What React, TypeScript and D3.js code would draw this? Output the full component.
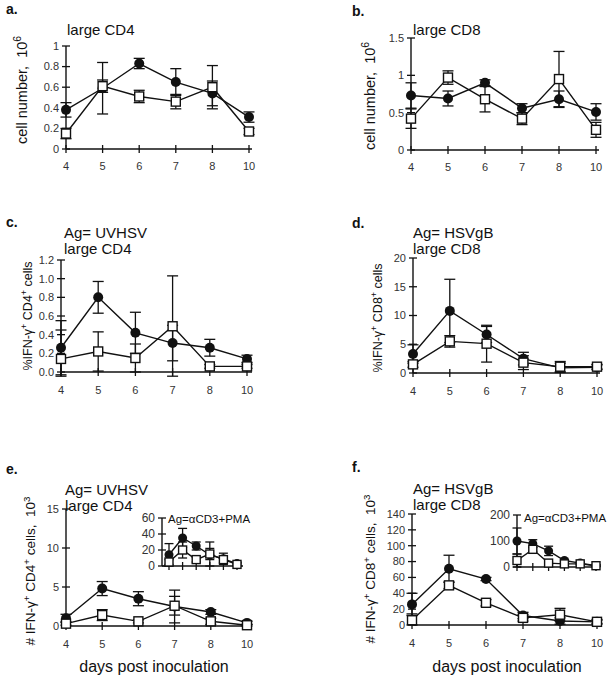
import React from "react";
import * as d3 from "d3";

// ---------- data ----------
const days = ["4", "5", "6", "7", "8", "10"];

// a. large CD4 cell number (10^6)
const aFilled = [0.38, 0.59, 0.83, 0.65, 0.54, 0.31];
const aFilledErr = [0.07, 0.25, 0.05, 0.13, 0.12, 0.05];
const aOpen = [0.15, 0.61, 0.51, 0.46, 0.6, 0.17];
const aOpenErr = [0.05, 0.06, 0.06, 0.07, 0.21, 0.03];
const aTicks = [0, 0.2, 0.4, 0.6, 0.8, 1];

// b. large CD8 cell number (10^6)
const bFilled = [0.73, 0.69, 0.9, 0.56, 0.68, 0.51];
const bFilledErr = [0.17, 0.1, 0.04, 0.06, 0.11, 0.11];
const bOpen = [0.42, 0.97, 0.68, 0.42, 0.95, 0.27];
const bOpenErr = [0.13, 0.09, 0.17, 0.08, 0.37, 0.1];
const bTicks = [0, 0.5, 1, 1.5];

// c. %IFN-g+ CD4+ (UVHSV)
const cFilled = [0.26, 0.8, 0.42, 0.31, 0.26, 0.14];
const cFilledErr = [0.29, 0.17, 0.22, 0.19, 0.09, 0.04];
const cOpen = [0.14, 0.22, 0.15, 0.49, 0.06, 0.06];
const cOpenErr = [0.31, 0.21, 0.15, 0.54, 0.02, 0.02];
const cTicks = [0, 0.2, 0.4, 0.6, 0.8, 1.0, 1.2];

// d. %IFN-g+ CD8+ (HSVgB)
const dFilled = [3.3, 10.8, 6.7, 2.5, 0.9, 1.0];
const dFilledErr = [1.6, 5.5, 1.4, 1.1, 0.8, 0.4];
const dOpen = [1.5, 5.5, 5.1, 1.8, 1.1, 1.1];
const dOpenErr = [0.5, 1.0, 3.2, 1.2, 0.9, 0.4];
const dTicks = [0, 5, 10, 15, 20];

// e. # IFN-g+ CD4+ (10^3)
const eFilled = [1.0, 4.8, 3.5, 2.5, 1.8, 0.4];
const eFilledErr = [0.5, 0.9, 0.9, 2.1, 0.3, 0.2];
const eOpen = [0.3, 1.4, 0.6, 2.6, 0.6, 0.1];
const eOpenErr = [0.2, 0.7, 0.2, 1.2, 0.4, 0.1];
const eTicks = [0, 5, 10, 15];
// e inset (aCD3+PMA)
const eInFilled = [14, 35, 25, 14, 9, 3];
const eInFilledErr = [14, 12, 5, 16, 7, 2];
const eInOpen = [5, 20, 8, 15, 8, 2];
const eInOpenErr = [3, 10, 3, 7, 4, 2];
const eInTicks = [0, 20, 40, 60];

// f. # IFN-g+ CD8+ (10^3)
const fFilled = [26, 71, 58, 12, 5, 4];
const fFilledErr = [14, 17, 2, 4, 4, 2];
const fOpen = [6, 50, 28, 9, 13, 4];
const fOpenErr = [8, 4, 4, 4, 8, 3];
const fTicks = [0, 20, 40, 60, 80, 100, 120, 140];
// f inset (aCD3+PMA)
const fInFilled = [100, 90, 62, 25, 15, 5];
const fInFilledErr = [50, 15, 18, 5, 5, 3];
const fInOpen = [25, 68, 15, 12, 12, 5];
const fInOpenErr = [25, 8, 5, 4, 4, 3];
const fInTicks = [0, 100, 200];

// ---------- drawing ----------
const FONT = "'Liberation Sans', Arial, Helvetica, sans-serif";
const INK = "#111";

type Seg = { t: string; sup?: boolean };

function SegText({ segs, size }: { segs: Seg[]; size: number }) {
  const out: React.ReactNode[] = [];
  let prevSup = false;
  segs.forEach((s, i) => {
    let dy = 0;
    if (s.sup && !prevSup) dy = -size * 0.4;
    if (!s.sup && prevSup) dy = size * 0.4;
    out.push(
      <tspan key={i} dy={dy} fontSize={s.sup ? size * 0.72 : size}>
        {s.t}
      </tspan>
    );
    prevSup = !!s.sup;
  });
  return <>{out}</>;
}

type PlotProps = {
  xRange: [number, number];
  axisX0?: number;
  axisX1?: number;
  yMax: number;
  yPx: [number, number];
  yAxisMin?: number;
  ticks: number[];
  fmt: (v: number) => string;
  filled: number[];
  filledErr: number[];
  open: number[];
  openErr: number[];
  tickSize: number;
  xLabels?: boolean;
  xLabelDy?: number;
  r?: number;
  sq?: number;
  cap?: number;
};

function Plot(p: PlotProps) {
  const x = d3.scalePoint<string>().domain(days).range(p.xRange).padding(0);
  const y = d3.scaleLinear().domain([0, p.yMax]).range(p.yPx);
  const yMinV = p.yAxisMin ?? 0;
  const ax0 = p.axisX0 ?? p.xRange[0];
  const ax1 = p.axisX1 ?? p.xRange[1] + 3;
  const y0 = y(0);
  const r = p.r ?? 5;
  const sq = p.sq ?? 9;
  const cap = p.cap ?? 5.5;
  const line = d3
    .line<number>()
    .x((_, i) => x(days[i]) as number)
    .y((v) => y(v));
  const errBars = (vals: number[], errs: number[], key: string) =>
    vals.map((v, i) => {
      const cx = x(days[i]) as number;
      const hi = y(v + errs[i]);
      const lo = y(Math.max(v - errs[i], yMinV));
      return (
        <g key={key + i} stroke={INK} strokeWidth={1.3}>
          <line x1={cx} x2={cx} y1={hi} y2={lo} />
          <line x1={cx - cap} x2={cx + cap} y1={hi} y2={hi} />
          <line x1={cx - cap} x2={cx + cap} y1={lo} y2={lo} />
        </g>
      );
    });
  return (
    <g fontFamily={FONT}>
      {/* y axis */}
      <line x1={ax0} x2={ax0} y1={y(yMinV)} y2={y(p.yMax)} stroke={INK} strokeWidth={1.4} />
      {p.ticks.map((t) => (
        <g key={"yt" + t}>
          <line x1={ax0 - 4} x2={ax0 + 4} y1={y(t)} y2={y(t)} stroke={INK} strokeWidth={1.3} />
          <text
            x={ax0 - 7}
            y={y(t)}
            dy="0.35em"
            textAnchor="end"
            fontSize={p.tickSize}
            fill="#333"
          >
            {p.fmt(t)}
          </text>
        </g>
      ))}
      {/* x axis */}
      <line x1={ax0} x2={ax1} y1={y0} y2={y0} stroke={INK} strokeWidth={1.4} />
      {days.map((d) => (
        <g key={"xt" + d}>
          <line x1={x(d)} x2={x(d)} y1={y0 - 4} y2={y0 + 4} stroke={INK} strokeWidth={1.3} />
          {p.xLabels !== false && (
            <text
              x={x(d)}
              y={y0 + (p.xLabelDy ?? 21)}
              textAnchor="middle"
              fontSize={p.tickSize}
              fill="#333"
            >
              {d}
            </text>
          )}
        </g>
      ))}
      {errBars(p.filled, p.filledErr, "fe")}
      {errBars(p.open, p.openErr, "oe")}
      <path d={line(p.filled) || ""} fill="none" stroke={INK} strokeWidth={1.4} />
      <path d={line(p.open) || ""} fill="none" stroke={INK} strokeWidth={1.4} />
      {p.filled.map((v, i) => (
        <circle key={"fc" + i} cx={x(days[i])} cy={y(v)} r={r} fill={INK} />
      ))}
      {p.open.map((v, i) => (
        <rect
          key={"os" + i}
          x={(x(days[i]) as number) - sq / 2}
          y={y(v) - sq / 2}
          width={sq}
          height={sq}
          fill="#fff"
          stroke={INK}
          strokeWidth={1.4}
        />
      ))}
    </g>
  );
}

function Letter({ x, y, t }: { x: number; y: number; t: string }) {
  return (
    <text x={x} y={y} fontFamily={FONT} fontWeight="bold" fontSize={14} fill={INK}>
      {t}
    </text>
  );
}

function Title({ x, y, lines }: { x: number; y: number; lines: string[] }) {
  return (
    <text x={x} y={y} fontFamily={FONT} fontSize={15} fill={INK}>
      {lines.map((l, i) => (
        <tspan key={i} x={x} dy={i === 0 ? 0 : 16}>
          {l}
        </tspan>
      ))}
    </text>
  );
}

function YLabel({ x, y, segs, size }: { x: number; y: number; segs: Seg[]; size: number }) {
  return (
    <text
      transform={`translate(${x},${y}) rotate(-90)`}
      textAnchor="middle"
      fontFamily={FONT}
      fontSize={size}
      fill={INK}
    >
      <SegText segs={segs} size={size} />
    </text>
  );
}

const f1 = d3.format(".1f");
const fg = (v: number) => String(v);

const cellLabel: Seg[] = [{ t: "cell number,\u00a0\u00a010" }, { t: "6", sup: true }];
const pctCD4: Seg[] = [
  { t: "%IFN-γ" },
  { t: "+", sup: true },
  { t: " CD4" },
  { t: "+", sup: true },
  { t: " cells" },
];
const pctCD8: Seg[] = [
  { t: "%IFN-γ" },
  { t: "+", sup: true },
  { t: " CD8" },
  { t: "+", sup: true },
  { t: " cells" },
];
const numCD4: Seg[] = [
  { t: "# IFN-γ" },
  { t: "+", sup: true },
  { t: " CD4" },
  { t: "+", sup: true },
  { t: " cells,\u00a0\u00a010" },
  { t: "3", sup: true },
];
const numCD8: Seg[] = [
  { t: "# IFN-γ" },
  { t: "+", sup: true },
  { t: " CD8" },
  { t: "+", sup: true },
  { t: " cells,\u00a0\u00a010" },
  { t: "3", sup: true },
];

export default function App() {
  return (
    <svg
      width={616}
      height={677}
      viewBox="0 0 616 677"
      style={{ position: "absolute", left: 0, top: 0, background: "#fff" }}
    >
      <rect width={616} height={677} fill="#fff" />

      {/* a */}
      <Letter x={6} y={14} t="a." />
      <Title x={67} y={35} lines={["large CD4"]} />
      <YLabel x={27} y={90} segs={cellLabel} size={14.5} />
      <Plot
        xRange={[66, 249]}
        yMax={1}
        yPx={[149, 46]}
        ticks={aTicks}
        fmt={fg}
        filled={aFilled}
        filledErr={aFilledErr}
        open={aOpen}
        openErr={aOpenErr}
        tickSize={11}
      />

      {/* b */}
      <Letter x={352} y={16} t="b." />
      <Title x={413} y={35} lines={["large CD8"]} />
      <YLabel x={375} y={96} segs={cellLabel} size={14.5} />
      <Plot
        xRange={[411, 596]}
        yMax={1.5}
        yPx={[150, 38]}
        ticks={bTicks}
        fmt={fg}
        filled={bFilled}
        filledErr={bFilledErr}
        open={bOpen}
        openErr={bOpenErr}
        tickSize={11}
      />

      {/* c */}
      <Letter x={6} y={227} t="c." />
      <Title x={64} y={238} lines={["Ag= UVHSV", "large CD4"]} />
      <YLabel x={32} y={316} segs={pctCD4} size={12.5} />
      <Plot
        xRange={[61, 247]}
        axisX1={252}
        yMax={1.2}
        yPx={[372, 260]}
        yAxisMin={-0.045}
        ticks={cTicks}
        fmt={f1}
        filled={cFilled}
        filledErr={cFilledErr}
        open={cOpen}
        openErr={cOpenErr}
        tickSize={11}
        xLabelDy={22}
      />

      {/* d */}
      <Letter x={352} y={228} t="d." />
      <Title x={413} y={238} lines={["Ag= HSVgB", "large CD8"]} />
      <YLabel x={382} y={318} segs={pctCD8} size={12.5} />
      <Plot
        xRange={[413, 597]}
        axisX1={600}
        yMax={20}
        yPx={[373, 258]}
        ticks={dTicks}
        fmt={fg}
        filled={dFilled}
        filledErr={dFilledErr}
        open={dOpen}
        openErr={dOpenErr}
        tickSize={11}
        xLabelDy={22}
      />

      {/* e */}
      <Letter x={6} y={474} t="e." />
      <Title x={65} y={495} lines={["Ag= UVHSV", "large CD4"]} />
      <YLabel x={35} y={571} segs={numCD4} size={13.5} />
      <Plot
        xRange={[66, 247]}
        axisX1={252}
        yMax={15}
        yPx={[626, 509]}
        ticks={eTicks}
        fmt={fg}
        filled={eFilled}
        filledErr={eFilledErr}
        open={eOpen}
        openErr={eOpenErr}
        tickSize={11}
        xLabelDy={22}
      />
      <Plot
        xRange={[169, 237]}
        axisX0={162}
        axisX1={243}
        yMax={60}
        yPx={[566, 518]}
        ticks={eInTicks}
        fmt={fg}
        filled={eInFilled}
        filledErr={eInFilledErr}
        open={eInOpen}
        openErr={eInOpenErr}
        tickSize={12}
        xLabels={false}
        r={4.5}
        sq={8}
        cap={4.5}
      />
      <text x={168} y={523} fontFamily={FONT} fontSize={11.5} fill={INK}>
        Ag=αCD3+PMA
      </text>
      <text x={154} y={672} textAnchor="middle" fontFamily={FONT} fontSize={16} fill={INK}>
        days post inoculation
      </text>

      {/* f */}
      <Letter x={352} y={472} t="f." />
      <Title x={413} y={494} lines={["Ag= HSVgB", "large CD8"]} />
      <YLabel x={375} y={569} segs={numCD8} size={13.5} />
      <Plot
        xRange={[412, 597]}
        axisX1={600}
        yMax={140}
        yPx={[625, 514]}
        ticks={fTicks}
        fmt={fg}
        filled={fFilled}
        filledErr={fFilledErr}
        open={fOpen}
        openErr={fOpenErr}
        tickSize={11}
        xLabelDy={22}
      />
      <Plot
        xRange={[517, 596]}
        axisX1={600}
        yMax={200}
        yPx={[567, 515]}
        ticks={fInTicks}
        fmt={fg}
        filled={fInFilled}
        filledErr={fInFilledErr}
        open={fInOpen}
        openErr={fInOpenErr}
        tickSize={12}
        xLabels={false}
        r={4.5}
        sq={8}
        cap={4.5}
      />
      <text x={524} y={522} fontFamily={FONT} fontSize={11.5} fill={INK}>
        Ag=αCD3+PMA
      </text>
      <text x={507} y={672} textAnchor="middle" fontFamily={FONT} fontSize={16} fill={INK}>
        days post inoculation
      </text>
    </svg>
  );
}
